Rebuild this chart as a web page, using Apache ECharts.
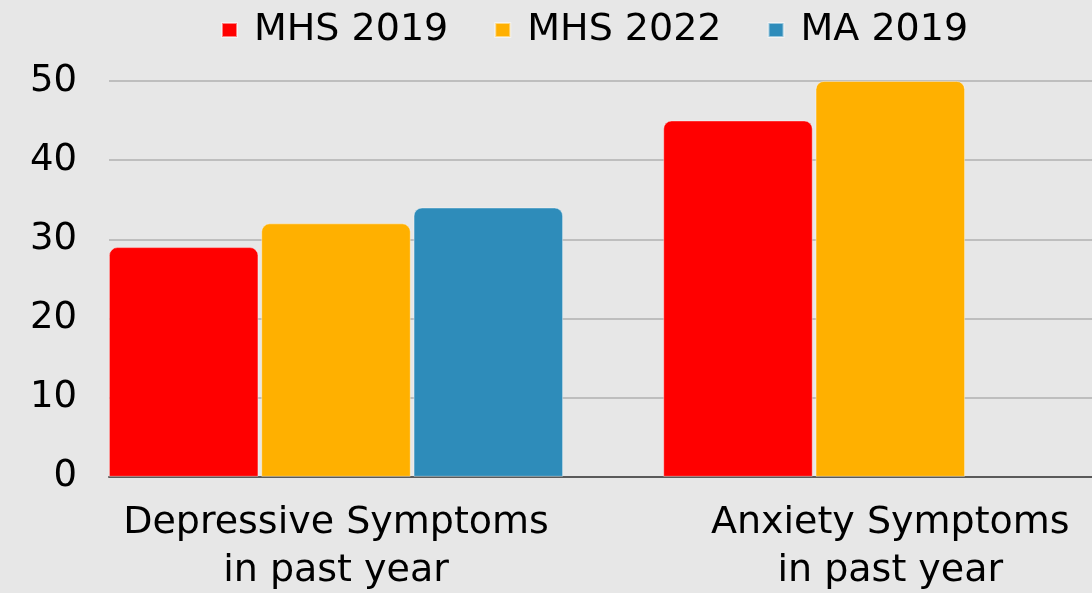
<!DOCTYPE html>
<html>
<head>
<meta charset="utf-8">
<script src="https://cdn.jsdelivr.net/npm/echarts@6/dist/echarts.min.js"></script>
<style>
  html, body { margin: 0; padding: 0; background: #e7e7e7; }
  #chart1 { width: 1092px; height: 593px; }
</style>
</head>
<body>
<div id="chart1"></div>
<script>
// data
const categories = ['Depressive Symptoms\nin past year', 'Anxiety Symptoms\nin past year']
const seriesNames = ['MHS 2019', 'MHS 2022', 'MA 2019']
const mhs2019 = [29, 45]
const mhs2022 = [32, 50]
const ma2019 = [34, null]
const yTicks = { min: 0, max: 50, interval: 10 }

const colors = ['#ff0000', '#ffb000', '#2e8cba']
const font = 'DejaVu Sans'

let myChart = echarts.init(document.getElementById('chart1'))

function barSeries(name, data, i) {
  return {
    name: name,
    type: 'bar',
    xAxisIndex: 1,
    yAxisIndex: 1,
    barGap: '2%',
    barCategoryGap: '18.1%',
    itemStyle: {
      color: colors[i],
      borderRadius: [8, 8, 0, 0],
      borderColor: 'rgba(255,255,255,0.5)',
      borderWidth: 0.8
    },
    data: data
  }
}

let option = {
  backgroundColor: '#e7e7e7',
  color: colors,
  textStyle: { fontFamily: font },
  legend: {
    left: 221,
    top: 11,
    padding: 0,
    icon: 'rect',
    itemWidth: 15,
    itemHeight: 14,
    itemGap: 46,
    data: seriesNames,
    textStyle: { fontSize: 38, color: '#000', fontFamily: font, padding: [0, 0, 0, 12] }
  },
  grid: [
    // axes, gridlines and tick labels
    { left: 109, right: 0, top: 81, bottom: 116.3, outerBoundsMode: 'none' },
    // bars: the category bands run past the right edge of the picture
    { left: 58.85, width: 1108.6, top: 81, bottom: 116.3, outerBoundsMode: 'none' }
  ],
  xAxis: [
    {
      type: 'category',
      gridIndex: 0,
      data: categories,
      axisLine: { lineStyle: { color: '#5a5a5a', width: 2 } },
      axisTick: { show: false },
      axisLabel: { show: false }
    },
    {
      type: 'category',
      gridIndex: 1,
      data: categories,
      axisLine: { show: false },
      axisTick: { show: false },
      axisLabel: {
        margin: 22.5,
        fontSize: 38,
        lineHeight: 48,
        color: '#000',
        fontFamily: font
      }
    }
  ],
  yAxis: [
    {
      type: 'value',
      gridIndex: 0,
      min: yTicks.min,
      max: yTicks.max,
      interval: yTicks.interval,
      axisLine: { show: false },
      axisTick: { show: false },
      axisLabel: { margin: 32, fontSize: 37, color: '#000', fontFamily: font },
      splitLine: { lineStyle: { color: '#b0b0b0', width: 1.5 } }
    },
    {
      type: 'value',
      gridIndex: 1,
      min: yTicks.min,
      max: yTicks.max,
      interval: yTicks.interval,
      show: false,
      splitLine: { show: false }
    }
  ],
  series: [
    barSeries(seriesNames[0], mhs2019, 0),
    barSeries(seriesNames[1], mhs2022, 1),
    barSeries(seriesNames[2], ma2019, 2)
  ]
}

option && myChart.setOption(option)
</script>
</body>
</html>
